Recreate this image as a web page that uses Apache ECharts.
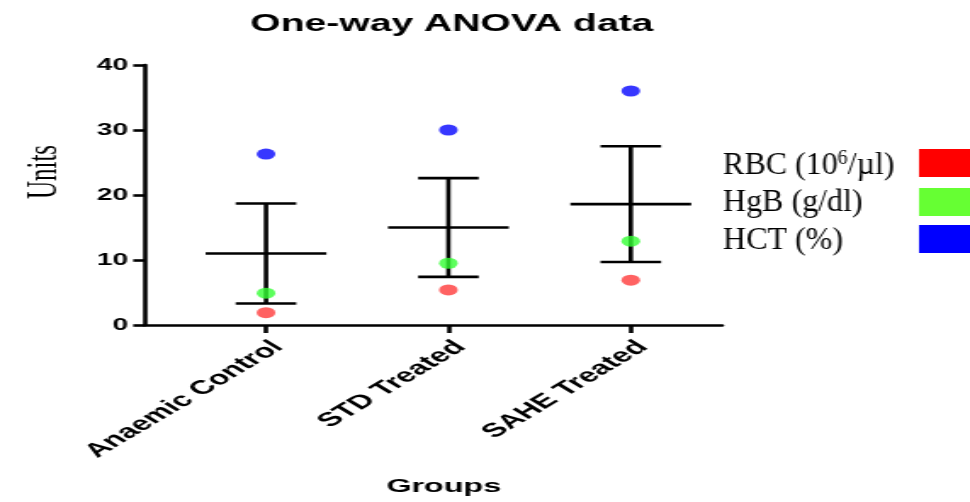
<!DOCTYPE html>
<html>
<head>
<meta charset="utf-8">
<script src="https://cdn.jsdelivr.net/npm/echarts@6/dist/echarts.min.js"></script>
<style>
  html, body { margin: 0; padding: 0; background: #fff; overflow: hidden; width: 970px; height: 502px; }
  #c { width: 571px; height: 502px; transform: scaleX(1.69877); transform-origin: 0 0; }
</style>
</head>
<body>
<div id="c"></div>
<script>
// ---- data ----
const categories = ['Anaemic Control', 'STD Treated', 'SAHE Treated'];
const rbc = [1.9, 5.4, 6.9];      // RBC (10^6/µl)
const hgb = [4.9, 9.5, 12.9];     // HgB (g/dl)
const hct = [26.3, 30.0, 36.0];   // HCT (%)
const meanVals = [11.0, 15.0, 18.6];
const errLow = [3.3, 7.4, 9.7];
const errHigh = [18.7, 22.6, 27.5];
const yTicks = [0, 10, 20, 30, 40];
const seriesNames = ['RBC (10⁶/µl)', 'HgB (g/dl)', 'HCT (%)'];
const legendColors = ['#ff0000', '#66ff33', '#0000ff'];
const dotColors = ['#ff3b3b', '#33ff33', '#0505ff'];

const S = 1.69877; // horizontal stretch of the reference
const chart = echarts.init(document.getElementById('c'), null, { renderer: 'canvas' });

const pos = categories.map((c, i) => i + 1);
const errData = pos.map((p, i) => [p, meanVals[i], errLow[i], errHigh[i]]);

function errRender(params, api) {
  const x = api.value(0);
  const pm = api.coord([x, api.value(1)]);
  const pl = api.coord([x, api.value(2)]);
  const ph = api.coord([x, api.value(3)]);
  const halfMean = api.size([0.331, 0])[0];
  const halfCap = api.size([0.166, 0])[0];
  const st = { stroke: '#000', lineWidth: 2.6 };
  return {
    type: 'group',
    children: [
      { type: 'line', shape: { x1: pl[0], y1: pl[1], x2: ph[0], y2: ph[1] }, style: st },
      { type: 'line', shape: { x1: pl[0] - halfCap, y1: pl[1], x2: pl[0] + halfCap, y2: pl[1] }, style: st },
      { type: 'line', shape: { x1: ph[0] - halfCap, y1: ph[1], x2: ph[0] + halfCap, y2: ph[1] }, style: st },
      { type: 'line', shape: { x1: pm[0] - halfMean, y1: pm[1], x2: pm[0] + halfMean, y2: pm[1] }, style: st }
    ]
  };
}

const legendRows = [166, 203, 241];
const legendRects = [[149, 28], [188, 28], [225, 28]];
const legendChildren = [];
seriesNames.forEach((n, i) => {
  const txt = i === 0 ? '{n|RBC (10}{s|6}{n|/µl)}' : '{n|' + n + '}';
  legendChildren.push({
    type: 'text',
    x: 0, y: legendRows[i],
    style: {
      text: txt,
      verticalAlign: 'middle',
      fill: '#000',
      rich: {
        n: { fontFamily: 'Liberation Serif', fontSize: 32, fill: '#000' },
        s: { fontFamily: 'Liberation Serif', fontSize: 20, fill: '#000', verticalAlign: 'top', padding: [0, 0, 15, 0] }
      }
    }
  });
  legendChildren.push({
    type: 'rect',
    shape: { x: 196, y: legendRects[i][0], width: 60, height: legendRects[i][1] },
    style: { fill: legendColors[i] }
  });
});

const option = {
  animation: false,
  backgroundColor: '#fff',
  title: {
    text: 'One-way ANOVA data',
    left: 261,
    textAlign: 'center',
    top: 8,
    textStyle: { fontFamily: 'Liberation Sans', fontWeight: 'bold', fontSize: 23, color: '#000' }
  },
  grid: { left: 85.4, right: 146, top: 65, bottom: 177, outerBoundsMode: 'none', containLabel: false },
  xAxis: {
    type: 'value',
    min: 0.337,
    max: 3.5,
    name: 'Groups',
    nameLocation: 'middle',
    nameGap: 152,
    nameTextStyle: { fontFamily: 'Liberation Sans', fontWeight: 'bold', fontSize: 19, color: '#000', padding: [0, 0, 0, 12] },
    splitLine: { show: false },
    axisLine: { show: true, lineStyle: { color: '#000', width: 2.6 } },
    axisTick: { show: true, customValues: pos, length: 8, lineStyle: { color: '#000', width: 2.6 } },
    axisLabel: {
      customValues: pos,
      rotate: 45,
      margin: 12,
      verticalAlign: 'top',
      fontFamily: 'Liberation Sans', fontWeight: 'bold', fontSize: 19.5, color: '#000',
      formatter: function (v) { const i = Math.round(v) - 1; return categories[i] || ''; }
    }
  },
  yAxis: {
    type: 'value',
    min: yTicks[0],
    max: yTicks[yTicks.length - 1],
    interval: 10,
    name: 'Units',
    nameLocation: 'middle',
    nameGap: 46,
    nameRotate: 90,
    nameTextStyle: { fontFamily: 'Liberation Serif', fontSize: 25, color: '#000', padding: [0, 0, 0, 46] },
    splitLine: { show: false },
    axisLine: { show: true, lineStyle: { color: '#000', width: 2.6 } },
    axisTick: { show: true, length: 7, lineStyle: { color: '#000', width: 2.6 } },
    axisLabel: { margin: 10, fontFamily: 'Liberation Sans', fontWeight: 'bold', fontSize: 16.5, color: '#000' }
  },
  series: [
    { type: 'custom', name: 'SD', renderItem: errRender, data: errData, z: 2, silent: true },
    { type: 'scatter', name: seriesNames[0], symbol: 'circle', symbolSize: 11, itemStyle: { color: dotColors[0] }, data: pos.map((p, i) => [p, rbc[i]]), z: 3 },
    { type: 'scatter', name: seriesNames[1], symbol: 'circle', symbolSize: 11, itemStyle: { color: dotColors[1] }, data: pos.map((p, i) => [p, hgb[i]]), z: 3 },
    { type: 'scatter', name: seriesNames[2], symbol: 'circle', symbolSize: 11, itemStyle: { color: dotColors[2] }, data: pos.map((p, i) => [p, hct[i]]), z: 3 }
  ],
  graphic: [
    { type: 'group', x: 723 / S, y: 0, scaleX: 1 / S, children: legendChildren }
  ]
};
chart.setOption(option);
</script>
</body>
</html>
